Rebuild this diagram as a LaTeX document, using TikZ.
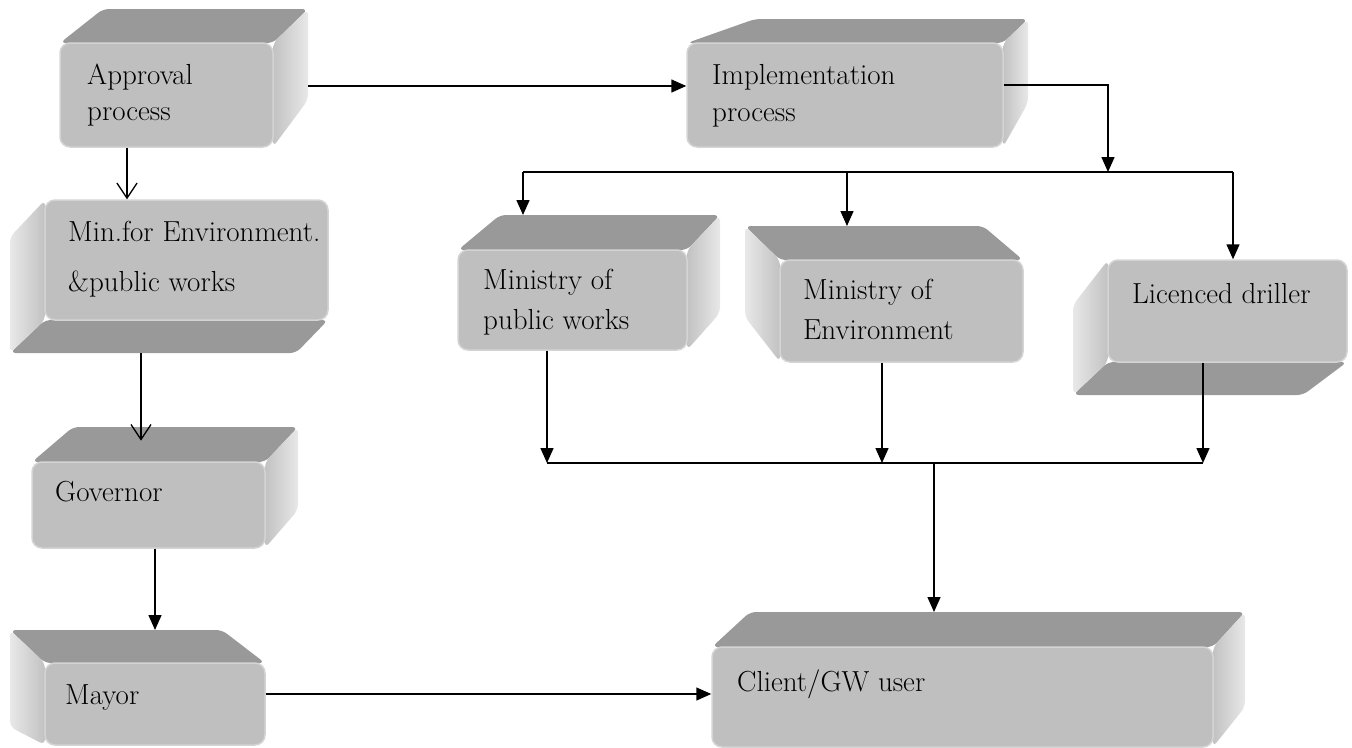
\documentclass[tikz,border=0pt]{standalone}
\usetikzlibrary{arrows.meta,calc}

\tikzset{
  topface/.style={fill=black!40, rounded corners=6pt},
  rightface/.style={left color=black!24, right color=black!9, rounded corners=6pt},
  leftface/.style={left color=black!9, right color=black!24, rounded corners=6pt},
  frontface/.style={rectangle, rounded corners=10pt, fill=black!25, draw=black!17,
    line width=1.5pt, inner sep=0pt},
  txt/.style={anchor=base west, inner sep=0pt, font=\fontsize{29}{33}\selectfont},
  ln/.style={line width=1.5pt},
  fa/.style={ln, -{Triangle[length=15pt,width=13pt]}},
  oa/.style={line width=1.3pt, -{Straight Barb[length=15pt,width=20pt]}},
}

% #1 name; #2..#5 front face x1,y1,x2,y2; #6..#9 back face x1,y1,x2,y2
\newcommand\bevelbox[9]{%
  \coordinate (#1-F1) at (#2,#3);
  \coordinate (#1-F2) at (#4,#3);
  \coordinate (#1-F3) at (#4,#5);
  \coordinate (#1-F4) at (#2,#5);
  \coordinate (#1-B1) at (#6,#7);
  \coordinate (#1-B2) at (#8,#7);
  \coordinate (#1-B3) at (#8,#9);
  \coordinate (#1-B4) at (#6,#9);
  \ifdim #7pt<#3pt
    \fill[topface] (#1-F1) -- (#1-F2) -- (#1-B2) -- (#1-B1) -- cycle;
  \else
    \fill[topface] (#1-F4) -- (#1-F3) -- (#1-B3) -- (#1-B4) -- cycle;
  \fi
  \ifdim #8pt>#4pt
    \shade[rightface] (#1-F2) -- (#1-F3) -- (#1-B3) -- (#1-B2) -- cycle;
  \else
    \shade[leftface] (#1-F1) -- (#1-F4) -- (#1-B4) -- (#1-B1) -- cycle;
  \fi
  \node[frontface, minimum width={(#4-#2)*1pt}, minimum height={(#5-#3)*1pt}]
    (#1) at ({(#2+#4)/2},{(#3+#5)/2}) {};
}

\begin{document}
\begin{tikzpicture}[x=1pt,y=-1pt]
\useasboundingbox (0,0) rectangle (1352,747);

% boxes
\bevelbox{appr}{60}{43}{273}{147}{103}{9}{308}{100}
\bevelbox{impl}{687}{43}{1003}{147}{755}{19}{1028}{103}
\bevelbox{minpw}{45}{200}{328}{320}{10}{237}{296}{353}
\bevelbox{gov}{32}{462}{265}{548}{73}{427}{298}{510}
\bevelbox{mayor}{45}{663}{265}{745}{10}{630}{222}{727}
\bevelbox{mpw}{458}{250}{687}{350}{500}{215}{720}{313}
\bevelbox{menv}{780}{260}{1023}{362}{745}{226}{983}{317}
\bevelbox{lic}{1108}{260}{1347}{362}{1073}{305}{1303}{395}
\bevelbox{client}{712}{647}{1213}{747}{750}{612}{1245}{707}

% labels
\node[txt] (appr-t1) at (87,84) {Approval};
\node[txt] (appr-t2) at (87,120) {process};
\node[txt] (impl-t1) at (712,84) {Implementation};
\node[txt] (impl-t2) at (712,121) {process};
\node[txt] (minpw-t1) at (68,241) {Min.for Environment.};
\node[txt] (minpw-t2) at (68,291) {\&public works};
\node[txt] (gov-t) at (55,501) {Governor};
\node[txt] (mayor-t) at (65,704) {Mayor};
\node[txt] (mpw-t1) at (483,289) {Ministry of};
\node[txt] (mpw-t2) at (483,329) {public works};
\node[txt] (menv-t1) at (803,299) {Ministry of};
\node[txt] (menv-t2) at (803,339) {Environment};
\node[txt] (lic-t) at (1132,303) {Licenced driller};
\node[txt] (client-t) at (737,691) {Client/GW user};

% approval -> implementation
\draw[fa] ($(appr-B2 |- impl.west)+(0,-9)$) -- ($(impl.west)+(0,-9)$);

% implementation -> the three executing bodies
\coordinate (split) at (1108,172);
\coordinate (bl) at (523,172);
\coordinate (bm) at (847,172);
\coordinate (br) at (1233,172);
\draw[fa] ($(impl.east)+(0,-10)$) -| (split);
\draw[ln] (bl) -- (br);
\draw[fa] (bl) -- (bl |- mpw-B1);
\draw[fa] (bm) -- (bm |- menv-B1);
\draw[fa] (br) -- (br |- lic.north);

% approval chain
\coordinate (c1) at (127,0);
\coordinate (c2) at (141,0);
\coordinate (c3) at (155,0);
\coordinate (c4) at (0,694);
\draw[oa] (c1 |- appr.south) -- (c1 |- minpw.north);
\draw[oa] (c2 |- minpw-B4) -- ($(c2 |- gov-B1)!0.4!(c2 |- gov.north)$);
\draw[fa] (c3 |- gov.south) -- (c3 |- mayor-B1);
\draw[fa] (mayor.east |- c4) -- (client.west |- c4);

% executing bodies -> client
\coordinate (m1) at (547,463);
\coordinate (m2) at (882,463);
\coordinate (m3) at (1203,463);
\coordinate (mc) at (934,463);
\draw[fa] (m1 |- mpw.south) -- (m1);
\draw[fa] (m2 |- menv.south) -- (m2);
\draw[fa] (m3 |- lic.south) -- (m3);
\draw[ln] (m1) -- (m3);
\draw[fa] (mc) -- (mc |- client-B1);
\end{tikzpicture}
\end{document}
